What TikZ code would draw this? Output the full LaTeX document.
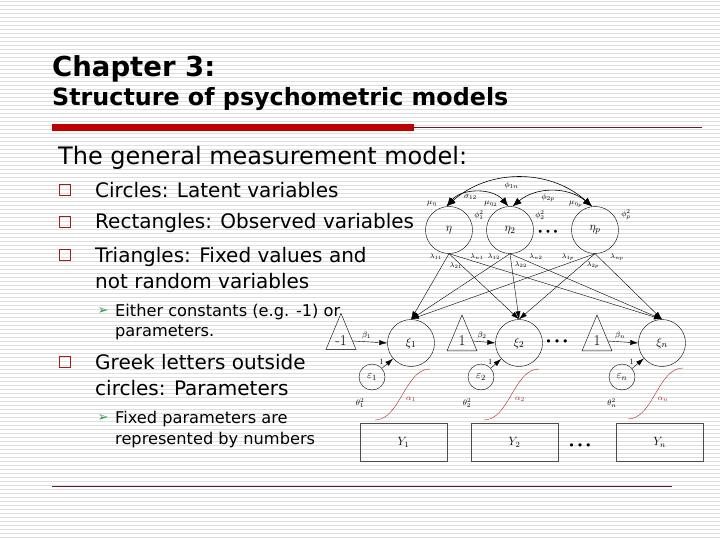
\documentclass[tikz,border=0pt]{standalone}
\usepackage[no-math]{fontspec}
\setmainfont{DejaVu Sans}
\usetikzlibrary{arrows.meta, shapes.geometric}
\definecolor{barred}{RGB}{192, 0, 0}
\definecolor{linered}{RGB}{100, 25, 45}
\definecolor{bulletred}{RGB}{165, 25, 25}
\definecolor{subgreen}{RGB}{40, 150, 80}
\definecolor{stripegray}{RGB}{222, 222, 222}
\definecolor{curvered}{RGB}{175, 35, 35}
\newcommand{\dgfont}{\fontfamily{lmr}\selectfont}

\begin{document}
\begin{tikzpicture}[x=1pt, y=-1pt, >={Latex[length=8pt,width=5pt]},
  latent/.style={circle, draw, thin, minimum size=47pt, inner sep=0pt, font=\fontsize{13}{13}\selectfont},
  errvar/.style={circle, draw, thin, minimum size=26pt, inner sep=0pt, font=\fontsize{11}{11}\selectfont},
  fixedtri/.style={isosceles triangle, isosceles triangle stretches, shape border rotate=90, draw, thin, inner sep=0pt, minimum width=30pt, minimum height=36pt, font=\dgfont\fontsize{15}{15}\selectfont},
  observed/.style={rectangle, draw=black!70, semithick, minimum width=87pt, minimum height=38pt, font=\fontsize{12}{12}\selectfont},
  par/.style={inner sep=0pt, font=\fontsize{8}{8}\selectfont},
  loadlab/.style={inner sep=0pt, font=\fontsize{7}{7}\selectfont},
  qbox/.style={rectangle, draw=bulletred, line width=1.8pt, minimum size=11pt, inner sep=0pt},
  subarrow/.style={text=subgreen, inner sep=0pt, font=\fontsize{13}{13}\selectfont},
  itemtext/.style={anchor=base west, inner sep=0pt, font=\fontsize{20}{20}\selectfont},
  subtext/.style={anchor=base west, inner sep=0pt, font=\fontsize{16.2}{16.2}\selectfont},
  cov/.style={{Latex[length=9pt,width=7pt]}-{Latex[length=9pt,width=7pt]}, semithick},
  load/.style={->, thin},
  sigmoid/.style={curvered, thin}]

\useasboundingbox (0,0) rectangle (720,540);

% Ruled background
\foreach \k in {0,...,134} {
  \draw[stripegray, line width=1pt] (0,{4*\k+1.5}) -- (720,{4*\k+1.5});
}

% Heading
\node[anchor=base west, inner sep=0pt, font=\bfseries\fontsize{27.5}{27.5}\selectfont] at (52,77) (chap) {Chapter 3:};
\node[anchor=base west, inner sep=0pt, font=\bfseries\fontsize{23.8}{23.8}\selectfont] at (52,106) (struct) {Structure of psychometric models};
\fill[barred] (52,124) rectangle (414,131);
\draw[linered, line width=0.8pt] (414,127.5) -- (702,127.5);

% Text
\node[anchor=base west, inner sep=0pt, font=\fontsize{24}{24}\selectfont] at (58,165) (intro) {The general measurement model:};
\node[qbox] at (65,190) (q1) {};
\node[itemtext] at (95,197) (t1) {Circles: Latent variables};
\node[qbox] at (65,222) (q2) {};
\node[itemtext] at (95,229) (t2) {Rectangles: Observed variables};
\node[qbox] at (65,255) (q3) {};
\node[itemtext] at (95,262) (t3) {Triangles: Fixed values and};
\node[itemtext] at (95,288) (t3b) {not random variables};
\node[subarrow] at (103,311) (s1) {➢};
\node[subtext] at (115,316) (u1) {Either constants (e.g. -1) or};
\node[subtext] at (115,336) (u1b) {parameters.};
\node[qbox] at (65,362) (q4) {};
\node[itemtext] at (95,369) (t4) {Greek letters outside};
\node[itemtext] at (95,395) (t4b) {circles: Parameters};
\node[subarrow] at (103,418) (s2) {➢};
\node[subtext] at (115,423) (u2) {Fixed parameters are};
\node[subtext] at (115,444) (u2b) {represented by numbers};

% Latent eta
\node[latent] at (449,230) (eta1) {$\eta$};
\node[latent] at (510,230) (eta2) {$\eta_2$};
\node[latent] at (595,230) (etap) {$\eta_p$};
\node[inner sep=0pt, font=\fontsize{10}{10}\selectfont] at (548,233) (etadots) {•\,•\,•};

% Covariances
\draw[cov] (eta1.96) to[bend left=42] node[par, pos=0.45, below=3pt] {$\phi_{1n}$} (etap.97);
\draw[cov] (eta1.96) to[bend left=50] node[par, pos=0.4, below=2pt] {$\sigma_{12}$} (eta2.94);
\draw[cov] (eta2.84) to[bend left=40] node[par, pos=0.45, below=2pt] {$\phi_{2p}$} (etap.97);

% Means and variances of eta
\node[par] at (432,204) (mu1) {$\mu_\eta$};
\node[par] at (479,215) (ph1) {$\phi_1^2$};
\node[par] at (491,204) (mu2) {$\mu_{\eta_2}$};
\node[par] at (540,215) (ph2) {$\phi_2^2$};
\node[par] at (576,204) (mup) {$\mu_{\eta_p}$};
\node[par] at (626,215) (php) {$\phi_p^2$};

% Latent xi
\node[latent] at (411,343) (xi1) {$\xi_1$};
\node[latent] at (519,343) (xi2) {$\xi_2$};
\node[latent] at (662,343) (xin) {$\xi_n$};
\node[inner sep=0pt, font=\fontsize{11}{11}\selectfont] at (557,343) (xidots) {•\,•\,•};

% Loadings
\foreach \e in {eta1,eta2,etap} {
  \foreach \x in {xi1,xi2,xin} {
    \draw[load] (\e.south) -- (\x.north);
  }
}
\foreach \px/\py/\txt in {436/257/11, 456/266/21, 477/257/n1, 494/257/12, 521/265/22, 536/257/n2, 568/257/1p, 593/265/2p, 617/257/np} {
  \node[loadlab] at (\px,\py) {$\lambda_{\txt}$};
}

% Fixed values
\node[fixedtri] at (341,341) (tri1) {\raisebox{-6pt}{-1}};
\node[fixedtri] at (462,341) (tri2) {\raisebox{-6pt}{1}};
\node[fixedtri] at (597,341) (tri3) {\raisebox{-6pt}{1}};
\draw[load] (tri1.east) -- (xi1.west) node[par, pos=0.4, above=3pt] {$\beta_1$};
\draw[load] (tri2.east) -- (xi2.west) node[par, pos=0.4, above=3pt] {$\beta_2$};
\draw[load] (tri3.east) -- (xin.west) node[par, pos=0.4, above=3pt] {$\beta_n$};

% Errors
\node[errvar] at (372,377) (eps1) {$\varepsilon_1$};
\node[errvar] at (481,377) (eps2) {$\varepsilon_2$};
\node[errvar] at (622,377) (epsn) {$\varepsilon_n$};
\draw[load] (eps1) -- (xi1) node[par, pos=0.25, above left=1pt] {\dgfont 1};
\draw[load] (eps2) -- (xi2) node[par, pos=0.25, above left=1pt] {\dgfont 1};
\draw[load] (epsn) -- (xin) node[par, pos=0.25, above left=1pt] {\dgfont 1};
\node[par] at (360,403) (th1) {$\theta_1^2$};
\node[par] at (467,403) (th2) {$\theta_2^2$};
\node[par] at (612,403) (thn) {$\theta_n^2$};

% Link curves
\draw[sigmoid] (375,420) .. controls (400,420) and (405,369) .. (430,369);
\draw[sigmoid] (484,420) .. controls (509,420) and (514,369) .. (539,369);
\draw[sigmoid] (628,419) .. controls (653,419) and (658,368) .. (683,368);
\node[par, text=curvered] at (411,399) (al1) {$\alpha_1$};
\node[par, text=curvered] at (520,399) (al2) {$\alpha_2$};
\node[par, text=curvered] at (663,399) (aln) {$\alpha_n$};

% Observed
\node[observed] at (403.5,442.5) (y1) {$Y_1$};
\node[observed] at (514.5,442.5) (y2) {$Y_2$};
\node[observed] at (659.5,442.5) (yn) {$Y_n$};
\node[inner sep=0pt, font=\fontsize{11}{11}\selectfont] at (580,447) (ydots) {•\,•\,•};

% Bottom rule
\draw[linered, line width=1pt] (52,486) -- (672,486);

\end{tikzpicture}
\end{document}
